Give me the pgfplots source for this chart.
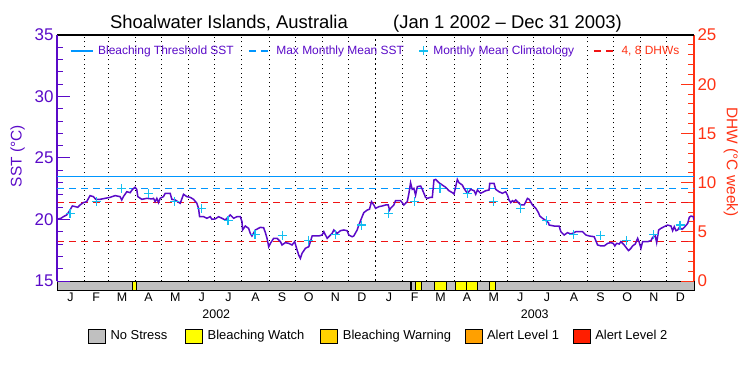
\documentclass[border=0pt]{standalone}
\usepackage{pgfplots}
\pgfplotsset{compat=1.18}
\usepackage{pgfplotstable}
\usepackage{fontspec}
\setmainfont{Liberation Sans}
\definecolor{sstpurple}{RGB}{90,10,200}
\definecolor{thrblue}{RGB}{0,150,255}
\definecolor{climcyan}{RGB}{20,190,240}
\definecolor{dhwred}{RGB}{255,50,20}
\definecolor{dashred}{RGB}{240,20,20}
\definecolor{nostress}{RGB}{192,192,192}
\definecolor{watch}{RGB}{255,255,0}
\definecolor{warning}{RGB}{255,210,0}
\definecolor{alertone}{RGB}{255,160,0}
\definecolor{alerttwo}{RGB}{255,30,0}
\pgfplotstableread{
day sst
0 20.02
4.6 20.1
7.3 20.23
11.1 20.37
13.8 20.64
17.6 21.1
21.4 21.04
23.7 20.99
26.4 21.18
30.2 21.37
34 21.45
37.9 21.94
41.7 21.86
44.4 21.64
49.4 21.64
55.1 21.72
60.8 21.8
66.6 21.94
72.3 21.86
74.2 21.59
76.1 21.86
80 22.26
83.8 22.18
86.5 22.45
89.5 22.62
91.4 22.45
92.6 21.86
97.2 21.64
102.9 21.72
108.7 21.67
110.6 21.72
112.5 21.45
114.4 21.72
116.3 21.37
118.2 21.72
122 21.86
124 22.13
129.7 22.13
131.6 21.64
135.4 21.59
141.2 21.32
145 22.05
148.8 21.86
152.7 21.8
156.5 21.64
160.3 21.32
162.2 20.91
163.4 20.23
167.9 20.23
171.8 20.1
175.6 20.23
177.5 20.02
181.4 20.05
185.2 20.23
189 20.1
192.8 19.96
196.7 20.23
198.6 20.37
202.4 20.1
206.3 20.23
210.1 20.23
212 19.82
212.7 19.15
215.8 19.47
219.6 19.28
221.5 18.87
223.4 18.66
227.3 19.15
233 19.36
236.8 19.33
238.8 18.93
240.7 18.47
242.6 17.79
244.5 18.06
248.3 18.47
252.2 18.47
256 18.2
257.9 17.93
261.7 18.12
265.5 18.06
269.4 17.93
272.4 18.2
274 17.79
275.1 17.52
277 17.11
278.9 16.84
280.8 17.25
284.7 17.66
288.5 17.79
290.4 18.2
292.4 18.66
296.1 18.66
300 18.66
303.8 18.74
305.7 19.01
309.6 18.47
313.4 18.74
315.3 18.87
317.2 19.15
321.1 18.87
324.8 19.09
328.7 19.15
332.5 19.09
334.4 18.74
338.2 18.6
340.1 18.66
344 19.15
345.9 19.55
349.7 20.23
351.6 20.56
355.5 20.77
358.1 20.83
360.4 21.45
363.1 21.18
365 20.91
368.8 21.04
372.7 21.1
376.5 21.18
379.6 21.18
381.1 20.77
382.2 20.91
386 21.18
388 21.53
393.7 21.53
395.6 21.37
397.5 21.18
401.4 21.45
403.3 22.13
405.2 22.99
407.1 22.45
409 22.53
410.9 21.98
412.9 22.67
416.7 22.72
418.6 22.45
422.4 21.8
424.4 21.72
428.1 21.8
430.1 21.8
432 23.21
433.9 23.26
437.7 22.99
441.6 22.8
445.4 22.62
449.2 22.34
453.1 22.18
455 22.07
456.9 22.67
458.8 23.26
460.7 22.99
464.5 22.8
466.4 22.53
470.3 22.13
474.1 22.45
478 22.34
479.8 22.05
481.8 22.4
485.5 22.13
491.3 22.34
495.1 22.4
495.9 22.94
500.8 22.94
502.8 22.45
506.5 22.26
510.4 22.13
514.2 22.26
516.2 21.98
518 21.59
520 21.37
521.9 21.53
523.8 21.45
525.7 21.59
529.5 21.32
531.5 21.18
535.3 21.18
537.2 21.45
539.1 21.72
541 21.64
544.9 21.18
548.7 20.91
551.7 20.56
553.3 20.28
556.3 20.1
559.4 19.96
563.2 19.74
564 19.55
569.7 19.47
575.4 19.47
577.4 19.01
581.2 18.74
585 18.93
588.8 18.82
592.6 18.93
594.6 19.01
602.3 19.01
606.1 18.74
609.9 18.66
615.6 18.6
619.5 17.93
623.3 17.85
627.1 17.85
631 18.06
634.8 18.12
637.4 18.06
639.3 17.85
641.3 18.06
644.3 18.01
646.2 18.2
650 17.93
652.8 17.66
655 17.47
657.7 17.66
659.6 17.85
662.7 18.01
665.4 18.47
667.3 18.12
669.2 17.66
671.1 18.2
676.9 18.2
680.7 18.28
682.6 18.55
685.6 18.66
687.2 18.12
689.5 19.15
692.1 19.28
695.9 19.42
699.8 19.55
703.6 19.47
705.5 19.09
707.4 19.42
709.4 19.09
711.3 19.15
713.2 19.36
716.3 19.2
718.9 19.36
722.8 19.69
724.6 20.18
726.6 20.28
729.2 20.23
730 19.96
}\ssttable
\pgfplotstableread{
day clim
15 20.5
45 21.45
74 22.52
105 22.13
135 21.45
166 20.9
196 19.93
227 18.8
258 18.72
288 18.3
319 18.75
349 19.55
380 20.5
410 21.45
439 22.52
470 22.13
500 21.45
531 20.9
561 19.93
592 18.8
623 18.72
653 18.3
684 18.75
714 19.55
}\climtable
\begin{document}
\begin{tikzpicture}[x=1bp,y=1bp]
\path[use as bounding box] (0,0) rectangle (750,375);
\node[anchor=base west, font=\fontsize{18.5}{20}\selectfont, inner sep=0pt] at (110,347) {Shoalwater Islands, Australia};
\node[anchor=base west, font=\fontsize{18.5}{20}\selectfont, inner sep=0pt] at (393,347) {(Jan 1 2002 – Dec 31 2003)};

% stress bar
\begin{axis}[at={(57bp,85bp)}, anchor=south west, scale only axis,
  width=637bp, height=9bp, xmin=0, xmax=730, ymin=0, ymax=1,
  ytick=\empty,
  axis background/.style={fill=nostress},
  axis line style={black, line width=1bp},
  xtick={15.5,45,74.5,105,135.5,166,196.5,227.5,258,288.5,319,349.5,380.5,410,439.5,470,500.5,531,561.5,592.5,623,653.5,684,714.5},
  xticklabels={J,F,M,A,M,J,J,A,S,O,N,D,J,F,M,A,M,J,J,A,S,O,N,D},
  major x tick style={draw=none},
  xticklabel style={font=\fontsize{12.5}{13}\selectfont, yshift=1bp},
  extra x ticks={182.5,547.5},
  extra x tick labels={2002,2003},
  extra x tick style={major tick style={draw=none}, tick label style={yshift=-17bp, font=\fontsize{17}{17}\selectfont}},
  legend image code/.code={\draw[#1,line width=0.8bp] (0bp,-7bp) rectangle (17bp,7bp);},
  legend style={at={(axis description cs:0.0487,-5.1)}, anchor=west, draw=none, fill=none,
    inner sep=0pt, outer sep=0pt,
    legend columns=5, font=\fontsize{13}{13}\selectfont,
    /tikz/every odd column/.append style={column sep=2.7bp},
    /tikz/every even column/.append style={column sep=14.7bp}},
]
\addplot[forget plot, fill=watch, draw=black, line width=0.8bp] coordinates {(86.5,1) (91.5,1)} \closedcycle;
\addplot[forget plot, fill=watch, draw=black, line width=0.8bp] coordinates {(405,1) (406.3,1)} \closedcycle;
\addplot[forget plot, fill=watch, draw=black, line width=0.8bp] coordinates {(411,1) (417.5,1)} \closedcycle;
\addplot[forget plot, fill=watch, draw=black, line width=0.8bp] coordinates {(432,1) (446,1)} \closedcycle;
\addplot[forget plot, fill=watch, draw=black, line width=0.8bp] coordinates {(456,1) (469,1)} \closedcycle;
\addplot[forget plot, fill=watch, draw=black, line width=0.8bp] coordinates {(469,1) (482,1)} \closedcycle;
\addplot[forget plot, fill=watch, draw=black, line width=0.8bp] coordinates {(495,1) (502.4,1)} \closedcycle;
\addlegendimage{fill=nostress, draw=black}
\addlegendentry{\makebox[58bp][l]{No Stress}}
\addlegendimage{fill=watch, draw=black}
\addlegendentry{\makebox[96bp][l]{Bleaching Watch}}
\addlegendimage{fill=warning, draw=black}
\addlegendentry{\makebox[105bp][l]{Bleaching Warning}}
\addlegendimage{fill=alertone, draw=black}
\addlegendentry{\makebox[69bp][l]{Alert Level 1}}
\addlegendimage{fill=alerttwo, draw=black}
\addlegendentry{\makebox[75bp][l]{Alert Level 2}}
\end{axis}

% DHW axis
\begin{axis}[at={(57bp,94bp)}, anchor=south west, scale only axis,
  width=637bp, height=246bp, xmin=0, xmax=730, ymin=0, ymax=25,
  axis x line=none, axis y line*=right,
  y axis line style={dhwred, line width=1.5bp},
  ytick={0,5,...,25}, minor y tick num=4,
  tick align=inside, major tick length=13bp, minor tick length=6bp,
  y tick style={dhwred, line width=1bp},
  /pgf/number format/assume math mode=true,
  yticklabel style={text=dhwred, font=\fontsize{17}{17}\selectfont},
  ylabel={DHW (°C week)},
  every axis y label/.style={at={(axis description cs:1.058,0.484)}, anchor=center, rotate=-90, text=dhwred, font=\fontsize{15.5}{16}\selectfont},
]
\addplot[dashred, line width=1.2bp, dash pattern=on 7bp off 5bp] coordinates {(0,4) (730,4)};
\addplot[dashred, line width=1.2bp, dash pattern=on 7bp off 5bp] coordinates {(0,8) (730,8)};
\end{axis}

% SST axis
\begin{axis}[at={(57bp,94bp)}, anchor=south west, scale only axis,
  width=637bp, height=246bp, xmin=0, xmax=730, ymin=15, ymax=35,
  axis x line*=top, axis y line*=left,
  x axis line style={black, line width=1.5bp},
  y axis line style={sstpurple, line width=1.5bp},
  xtick={31,59,90,120,151,181,212,243,273,304,334,396,424,455,485,516,546,577,608,638,669,699},
  xticklabels={}, xmajorgrids,
  major x tick style={draw=none},
  grid style={black, line width=1bp, dash pattern=on 1bp off 3.5bp},
  extra x ticks={365}, extra x tick labels={},
  extra x tick style={grid style={black, line width=1.8bp, dash pattern=on 1.8bp off 3bp}, major tick style={draw=none}},
  ytick={15,20,...,35}, minor y tick num=4,
  tick align=inside, major tick length=13bp, minor tick length=6bp,
  y tick style={sstpurple, line width=1bp},
  /pgf/number format/assume math mode=true,
  yticklabel style={text=sstpurple, font=\fontsize{17}{17}\selectfont},
  ylabel={SST (°C)},
  every axis y label/.style={at={(axis description cs:-0.062,0.508)}, anchor=center, rotate=90, text=sstpurple, font=\fontsize{15.5}{16}\selectfont},
  legend image code/.code={\draw[mark repeat=2, mark phase=2, #1] plot coordinates {(0bp,0bp) (11bp,0bp) (22bp,0bp)};},
  legend style={at={(axis description cs:0.0204,0.935)}, anchor=west, draw=none, fill=none,
    inner sep=0pt, outer sep=0pt,
    legend columns=4, font=\fontsize{12}{12}\selectfont,
    /tikz/every odd column/.append style={column sep=3bp},
    /tikz/every even column/.append style={column sep=9bp}},
]
\addplot[thrblue, line width=1.2bp] coordinates {(0,23.5) (730,23.5)};
\addlegendentry{\makebox[139bp][l]{\textcolor{sstpurple}{Bleaching Threshold SST}}}
\addplot[thrblue, line width=1.2bp, dash pattern=on 7bp off 5bp] coordinates {(0,22.54) (730,22.54)};
\addlegendentry{\makebox[132bp][l]{\textcolor{sstpurple}{Max Monthly Mean SST}}}
\addplot[only marks, mark=+, mark size=4.5bp, climcyan, line width=1.2bp] table[x=day, y=clim] {\climtable};
\addlegendentry{\makebox[149bp][l]{\textcolor{sstpurple}{Monthly Mean Climatology}}}
\addlegendimage{dashred, line width=1.2bp, dash pattern=on 7bp off 5bp}
\addlegendentry{\makebox[60bp][l]{\textcolor{dhwred}{4, 8 DHWs}}}
\addplot[sstpurple, line width=1.5bp, forget plot] table[x=day, y=sst] {\ssttable};
\end{axis}
\end{tikzpicture}
\end{document}
